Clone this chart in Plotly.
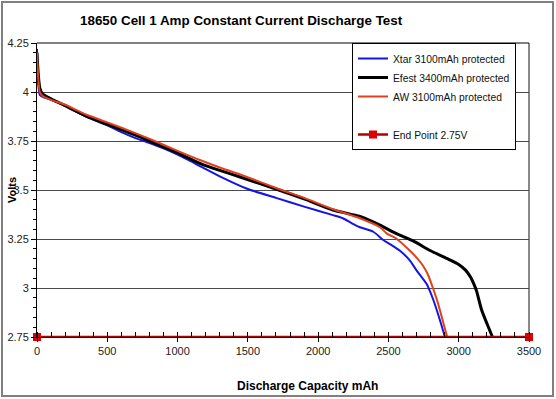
import plotly.graph_objects as go

# ---------------- data ----------------
xtar_mah = [0, 8, 20, 40, 100, 200, 348, 500, 600, 700, 780, 900, 1000, 1159, 1300, 1500,
            1700, 1900, 2105, 2176, 2240, 2297, 2392, 2463, 2511, 2582, 2653, 2700, 2772,
            2819, 2866, 2902]
xtar_v = [4.22, 4.05, 3.985, 3.975, 3.96, 3.93, 3.875, 3.83, 3.795, 3.765, 3.745, 3.712, 3.68,
          3.622, 3.57, 3.505, 3.46, 3.415, 3.372, 3.356, 3.33, 3.31, 3.287, 3.245, 3.224,
          3.19, 3.14, 3.09, 3.02, 2.94, 2.837, 2.75]

efest_mah = [0, 8, 20, 40, 100, 200, 348, 500, 700, 800, 1000, 1159, 1300, 1450, 1720, 1900,
             2105, 2297, 2440, 2550, 2676, 2800, 2915, 3000, 3050, 3085, 3105, 3127, 3145,
             3163, 3200, 3240]
efest_v = [4.20, 4.10, 4.02, 3.99, 3.965, 3.93, 3.878, 3.835, 3.78, 3.75, 3.69, 3.636, 3.60,
           3.565, 3.50, 3.455, 3.398, 3.365, 3.321, 3.28, 3.24, 3.19, 3.151, 3.12, 3.09, 3.055,
           3.025, 2.985, 2.935, 2.888, 2.82, 2.75]

aw_mah = [0, 8, 20, 40, 100, 200, 348, 500, 704, 820, 1000, 1159, 1300, 1450, 1720, 1900,
          2105, 2297, 2440, 2487, 2560, 2653, 2700, 2745, 2780, 2819, 2845, 2866, 2895, 2918]
aw_v = [4.20, 4.08, 4.00, 3.98, 3.96, 3.935, 3.885, 3.845, 3.789, 3.755, 3.70, 3.653, 3.615,
        3.578, 3.505, 3.46, 3.402, 3.356, 3.31, 3.279, 3.25, 3.19, 3.155, 3.115, 3.07, 2.995,
        2.94, 2.888, 2.81, 2.75]

end_mah = [0, 3500]
end_v = [2.75, 2.75]

series_names = ["Xtar 3100mAh protected", "Efest 3400mAh protected", "AW 3100mAh protected",
                "End Point 2.75V"]

y_ticks = [2.75, 3.0, 3.25, 3.5, 3.75, 4.0, 4.25]
y_ticktext = ["2.75", "3", "3.25", "3.5", "3.75", "4", "4.25"]
x_ticks = [0, 500, 1000, 1500, 2000, 2500, 3000, 3500]

title_text = "18650 Cell 1 Amp Constant Current Discharge Test"
x_title = "Discharge Capacity mAh"
y_title = "Volts"

FONT = "Arial, Liberation Sans, Helvetica, sans-serif"
SMOOTH = 0.6

fig = go.Figure()
fig.add_trace(go.Scatter(x=xtar_mah, y=xtar_v, mode="lines", name=series_names[0],
                         line=dict(color="#1414e6", width=2, shape="spline", smoothing=SMOOTH)))
fig.add_trace(go.Scatter(x=efest_mah, y=efest_v, mode="lines", name=series_names[1],
                         line=dict(color="#000000", width=3, shape="spline", smoothing=SMOOTH)))
fig.add_trace(go.Scatter(x=aw_mah, y=aw_v, mode="lines", name=series_names[2],
                         line=dict(color="#e0401c", width=2, shape="spline", smoothing=SMOOTH)))
# blank legend spacer
fig.add_trace(go.Scatter(x=[None], y=[None], mode="lines", name=" ",
                         line=dict(color="rgba(0,0,0,0)", width=1), hoverinfo="skip"))
fig.add_trace(go.Scatter(x=end_mah, y=end_v, mode="lines+markers", name=series_names[3],
                         line=dict(color="#b00000", width=2.5),
                         marker=dict(symbol="square", size=8, color="#dd0000"),
                         cliponaxis=False))

fig.update_layout(
    width=556, height=399,
    margin=dict(l=37, r=27, t=43, b=62),
    paper_bgcolor="white", plot_bgcolor="white",
    font=dict(family=FONT, size=10, color="#222222"),
    showlegend=True,
    legend=dict(x=(352 - 37) / 492, y=1.0, xanchor="left", yanchor="top",
                bgcolor="white", bordercolor="#000000", borderwidth=1,
                font=dict(family=FONT, size=10.3, color="#111111"),
                tracegroupgap=0, itemwidth=30),
    xaxis=dict(range=[0, 3500], tickvals=x_ticks, showgrid=False, zeroline=False,
               automargin=False,
               showline=True, linecolor="#000000", linewidth=1,
               ticks="outside", ticklen=4, tickcolor="#000000",
               tickfont=dict(family=FONT, size=11, color="#222222"),
               minor=dict(dtick=100, ticks="inside", ticklen=5, tickcolor="#000000"),
               fixedrange=True),
    yaxis=dict(range=[2.75, 4.25], tickvals=y_ticks, ticktext=y_ticktext,
               automargin=False,
               showgrid=True, gridcolor="#4a4a4a", gridwidth=1, zeroline=False,
               showline=True, linecolor="#000000", linewidth=1,
               ticks="outside", ticklen=5, tickcolor="#000000",
               tickfont=dict(family=FONT, size=11, color="#222222"),
               minor=dict(dtick=0.05, ticks="outside", ticklen=3, tickcolor="#000000",
                          showgrid=False),
               fixedrange=True),
    annotations=[
        dict(text="<b>" + title_text + "</b>", xref="paper", yref="paper",
             x=(241 - 37) / 492, y=(337 - 20) / 294, xanchor="center", yanchor="middle",
             showarrow=False, font=dict(family=FONT, size=13.4, color="#000000")),
        dict(text="<b>" + x_title + "</b>", xref="paper", yref="paper",
             x=(307 - 37) / 492, y=(337 - 386) / 294, xanchor="center", yanchor="middle",
             showarrow=False, font=dict(family=FONT, size=12, color="#000000")),
        dict(text="<b>" + y_title + "</b>", xref="paper", yref="paper",
             x=(12 - 37) / 492, y=(337 - 190) / 294, xanchor="center", yanchor="middle",
             textangle=-90, showarrow=False, font=dict(family=FONT, size=11, color="#000000")),
    ],
    shapes=[
        # outer chart frame
        dict(type="rect", xref="paper", yref="paper",
             x0=(2 - 37) / 492, x1=(553 - 37) / 492, y0=(337 - 396) / 294, y1=(337 - 2) / 294,
             line=dict(color="#808080", width=2), fillcolor="rgba(0,0,0,0)", layer="above"),
        # plot area top & right border
        dict(type="line", xref="paper", yref="paper", x0=0, x1=1, y0=1, y1=1,
             line=dict(color="#000000", width=1)),
        dict(type="line", xref="paper", yref="paper", x0=1, x1=1, y0=0, y1=1,
             line=dict(color="#888888", width=2), layer="below"),
    ],
)

fig.write_html("out.html", config={"displayModeBar": False},
               post_script="document.body.style.margin='0px';")
